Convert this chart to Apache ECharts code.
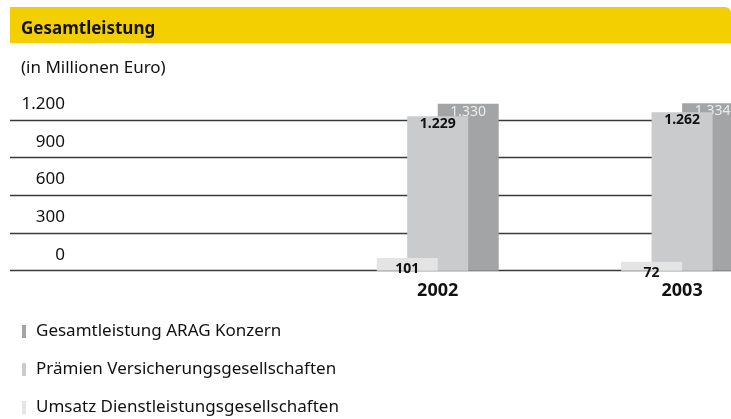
<!DOCTYPE html>
<html><head><meta charset="utf-8">
<script src="https://cdn.jsdelivr.net/npm/echarts@6/dist/echarts.min.js"></script>
<style>html,body{margin:0;padding:0;background:#fff}#c{width:731px;height:419px}</style>
</head><body><div id="c"></div>
<script>
const years = [2002, 2003];
const gesamtleistung = [1330, 1334];
const praemien = [1229, 1262];
const umsatz = [101, 72];
const yTicks = [0, 300, 600, 900, 1200];
const seriesNames = ['Gesamtleistung ARAG Konzern', 'Prämien Versicherungsgesellschaften', 'Umsatz Dienstleistungsgesellschaften'];

const FONT = 'Noto Sans';
const fmt = v => String(v).replace(/\B(?=(\d{3})+(?!\d))/g, '.');
const pairs = arr => years.map((y, i) => [y, arr[i]]);

const chart = echarts.init(document.getElementById('c'), null, {renderer: 'canvas'});
chart.setOption({
  animation: false,
  textStyle: {fontFamily: FONT},
  graphic: [{
    type: 'rect', left: 10, top: 7, z: -1,
    shape: {width: 721, height: 36, r: [0, 6, 0, 0]},
    style: {fill: '#f3ce00'}
  }],
  title: [
    {text: 'Gesamtleistung', left: 16, top: 16,
     textStyle: {fontFamily: FONT, fontSize: 17, fontWeight: 'bold', color: '#111'}},
    {text: '(in Millionen Euro)', left: 16, top: 55,
     textStyle: {fontFamily: FONT, fontSize: 17, fontWeight: 'normal', color: '#111'}}
  ],
  legend: {
    orient: 'vertical', left: 22, top: 323, padding: 0, height: 120,
    data: seriesNames,
    icon: 'rect', itemWidth: 4, itemHeight: 13, itemGap: 21,
    textStyle: {fontFamily: FONT, fontSize: 17, color: '#111', lineHeight: 16, padding: [0, 0, 0, 5]}
  },
  grid: {left: 10, right: 0, top: 120, bottom: 148.3, containLabel: false},
  xAxis: {
    type: 'value', min: 2000.25, max: 2003.2,
    axisLine: {show: false}, axisTick: {show: false}, splitLine: {show: false},
    axisLabel: {
      customValues: years, margin: 11,
      formatter: v => String(v),
      fontFamily: FONT, fontSize: 18, fontWeight: 'bold', color: '#111'
    }
  },
  yAxis: {
    type: 'value', min: 0, max: 1200, interval: 300, offset: -55,
    axisLine: {show: false}, axisTick: {show: false},
    splitLine: {show: true, lineStyle: {color: '#3a3a3a', width: 1.3}},
    axisLabel: {
      margin: 0, formatter: v => fmt(v), verticalAlign: 'bottom',
      lineHeight: 32,
      fontFamily: FONT, fontSize: 17, color: '#111'
    }
  },
  series: [
    {
      name: seriesNames[2], type: 'bar', data: pairs(umsatz), z: 4,
      barWidth: 61, barGap: '-50%', clip: false,
      itemStyle: {color: '#e4e4e4'},
      label: {show: true, position: 'insideTop', distance: 4, formatter: p => fmt(p.value[1]),
        fontFamily: FONT, fontSize: 14, fontWeight: 'bold', color: '#111'}
    },
    {
      name: seriesNames[1], type: 'bar', data: pairs(praemien), z: 3,
      barWidth: 61, barGap: '-50%', clip: false,
      itemStyle: {color: '#c9cbcc'},
      label: {show: true, position: 'insideTop', distance: 1, formatter: p => fmt(p.value[1]),
        fontFamily: FONT, fontSize: 14, fontWeight: 'bold', color: '#111'}
    },
    {
      name: seriesNames[0], type: 'bar', data: pairs(gesamtleistung), z: 2,
      barWidth: 61, barGap: '-50%', clip: false,
      itemStyle: {color: '#a2a4a6'},
      label: {show: true, position: 'insideTop', distance: 1, formatter: p => fmt(p.value[1]),
        fontFamily: FONT, fontSize: 14, fontWeight: 'normal', color: '#ececec'}
    }
  ]
});
</script></body></html>
